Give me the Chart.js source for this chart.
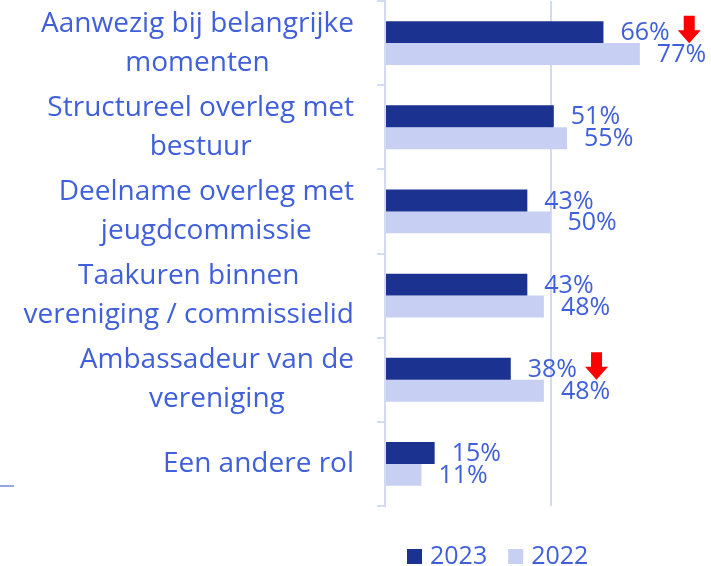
<!DOCTYPE html>
<html>
<head>
<meta charset="utf-8">
<script src="https://cdn.jsdelivr.net/npm/chart.js@4/dist/chart.umd.min.js"></script>
<style>
  html, body { margin: 0; padding: 0; background: #fff; overflow: hidden; }
  #wrap { width: 716px; height: 566px; }
</style>
</head>
<body>
<div id="wrap"><canvas id="c" width="716" height="566"></canvas></div>
<script>
const categories = [
  ["Aanwezig bij belangrijke", "momenten"],
  ["Structureel overleg met", "bestuur"],
  ["Deelname overleg met", "jeugdcommissie"],
  ["Taakuren binnen", "vereniging / commissielid"],
  ["Ambassadeur van de", "vereniging"],
  ["Een andere rol"]
];
const seriesNames = ["2023", "2022"];
const values2023 = [66, 51, 43, 43, 38, 15];
const values2022 = [77, 55, 50, 48, 48, 11];
const decline2023 = [true, false, false, false, true, false];

const DARK = "#1B3290";
const LIGHT = "#C7D0F3";
const TEXT = "#3F5FDB";
const AXIS = "#D3DAF4";
const FONT = "'Open Sans', 'Noto Sans', sans-serif";

const overlay = {
  id: "overlay",
  afterDatasetsDraw(chart) {
    const ctx = chart.ctx;
    const yScale = chart.scales.y;
    ctx.save();
    // data labels
    ctx.font = "25px " + FONT;
    ctx.fillStyle = TEXT;
    ctx.textAlign = "left";
    ctx.textBaseline = "middle";
    chart.data.datasets.forEach((ds, di) => {
      const meta = chart.getDatasetMeta(di);
      meta.data.forEach((el, i) => {
        const txt = ds.data[i] + "%";
        const lx = el.x + 17;
        ctx.fillStyle = TEXT;
        ctx.fillText(txt, lx, el.y + 1);
        if (di === 0 && decline2023[i]) {
          const w = ctx.measureText(txt).width;
          const ax = lx + w + 8;
          const top = el.y - 16.5, headY = el.y - 2, tip = el.y + 11;
          ctx.fillStyle = "#FF0000";
          ctx.beginPath();
          ctx.moveTo(ax + 6, top);
          ctx.lineTo(ax + 17, top);
          ctx.lineTo(ax + 17, headY);
          ctx.lineTo(ax + 23, headY);
          ctx.lineTo(ax + 11.5, tip);
          ctx.lineTo(ax, headY);
          ctx.lineTo(ax + 6, headY);
          ctx.closePath();
          ctx.fill();
        }
      });
    });
    // category labels: block right-aligned, lines centered
    ctx.font = "28px " + FONT;
    ctx.fillStyle = TEXT;
    ctx.textAlign = "center";
    ctx.textBaseline = "middle";
    const right = chart.chartArea.left - 31;
    const lh = 39;
    categories.forEach((lines, i) => {
      const cy = yScale.getPixelForValue(i);
      const maxW = Math.max(...lines.map(l => ctx.measureText(l).width));
      const cx = right - maxW / 2;
      lines.forEach((l, k) => {
        const y = cy + (k - (lines.length - 1) / 2) * lh;
        ctx.fillText(l, cx, y);
      });
    });
    // legend
    ctx.font = "25px " + FONT;
    ctx.textAlign = "left";
    ctx.textBaseline = "alphabetic";
    const colors = [DARK, LIGHT];
    let x = 407;
    const baseY = 564;
    seriesNames.forEach((n, i) => {
      ctx.fillStyle = colors[i];
      ctx.fillRect(x, 549, 15, 15);
      ctx.fillStyle = TEXT;
      ctx.fillText(n, x + 23, baseY);
      x += 23 + ctx.measureText(n).width + 21;
    });
    // small stray tick at left
    ctx.strokeStyle = "#6D8AE0";
    ctx.lineWidth = 1.5;
    ctx.beginPath();
    ctx.moveTo(0, 486);
    ctx.lineTo(14, 486);
    ctx.stroke();
    ctx.restore();
  }
};

new Chart(document.getElementById("c"), {
  type: "bar",
  data: {
    labels: categories,
    datasets: [
      { label: seriesNames[0], data: values2023, backgroundColor: DARK, borderWidth: 0 },
      { label: seriesNames[1], data: values2022, backgroundColor: LIGHT, borderWidth: 0 }
    ]
  },
  options: {
    indexAxis: "y",
    responsive: false,
    animation: false,
    layout: { padding: { top: 1, bottom: 60, left: 0, right: 0 } },
    categoryPercentage: 0.52,
    barPercentage: 1.0,
    plugins: { legend: { display: false }, tooltip: { enabled: false } },
    scales: {
      x: {
        min: 0, max: 100,
        ticks: { display: false, stepSize: 50 },
        grid: { color: AXIS, lineWidth: 2, drawTicks: false },
        border: { display: false }
      },
      y: {
        offset: true,
        ticks: { display: false },
        grid: { offset: true, drawOnChartArea: false, tickLength: 8, color: AXIS, lineWidth: 2 },
        border: { color: AXIS, width: 2 },
        afterFit(scale) { scale.width = 385; }
      }
    }
  },
  plugins: [overlay]
});
</script>
</body>
</html>
